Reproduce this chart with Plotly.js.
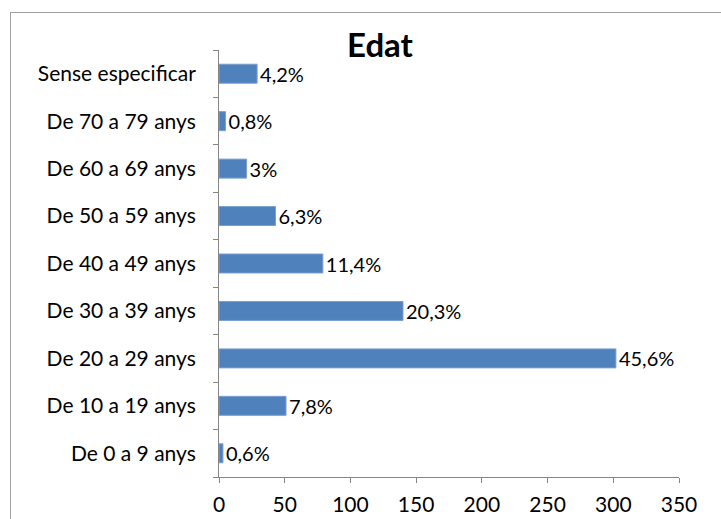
<!DOCTYPE html>
<html>
<head>
<meta charset="utf-8">
<script src="https://cdn.plot.ly/plotly-3.0.1.min.js"></script>
<style>
  html, body { margin: 0; padding: 0; background: #ffffff; overflow: hidden; }
  #frame { position: absolute; left: 10px; top: 12px; width: 740px; height: 540px; border: 1px solid #a0a0a0; box-sizing: border-box; }
  #chart { position: absolute; left: 0; top: 0; width: 721px; height: 519px; }
</style>
</head>
<body>
<div id="frame"></div>
<div id="chart"></div>
<script>
const categories = [
  "De 0 a 9 anys",
  "De 10 a 19 anys",
  "De 20 a 29 anys",
  "De 30 a 39 anys",
  "De 40 a 49 anys",
  "De 50 a 59 anys",
  "De 60 a 69 anys",
  "De 70 a 79 anys",
  "Sense especificar"
];
const values = [3, 51, 302, 140, 79, 43, 21, 5, 29];
const percentLabels = ["0,6%", "7,8%", "45,6%", "20,3%", "11,4%", "6,3%", "3%", "0,8%", "4,2%"];
const xTicks = [0, 50, 100, 150, 200, 250, 300, 350];

const fontFam = "Lato, 'Open Sans', 'DejaVu Sans', sans-serif";

const trace = {
  type: "bar",
  orientation: "h",
  y: categories,
  x: values,
  text: percentLabels,
  textposition: "outside",
  constraintext: "none",
  cliponaxis: false,
  textfont: { family: fontFam, size: 20, color: "#000000" },
  marker: { color: "#4F81BD", line: { color: "#7a9fd0", width: 1 } },
  hoverinfo: "skip"
};

const layout = {
  width: 721,
  height: 519,
  margin: { l: 219, r: 42, t: 50, b: 42, pad: 0 },
  paper_bgcolor: "rgba(0,0,0,0)",
  plot_bgcolor: "rgba(0,0,0,0)",
  bargap: 0.6,
  showlegend: false,
  title: {
    text: "<b>Edat</b>",
    font: { family: fontFam, size: 33, color: "#000000" },
    x: 0.527, xanchor: "center",
    y: 0.913, yanchor: "middle",
    xref: "container", yref: "container"
  },
  xaxis: {
    range: [0, 350],
    tickvals: xTicks,
    ticktext: xTicks.map(String),
    showgrid: false,
    zeroline: false,
    showline: true,
    linecolor: "#868686",
    linewidth: 1,
    ticks: "outside",
    ticklen: 5,
    tickcolor: "#868686",
    ticklabelstandoff: 4,
    tickfont: { family: fontFam, size: 21, color: "#000000" },
    fixedrange: true
  },
  yaxis: {
    type: "category",
    categoryorder: "array",
    categoryarray: categories,
    showgrid: false,
    zeroline: false,
    showline: true,
    linecolor: "#868686",
    linewidth: 1,
    ticks: "outside",
    tickson: "boundaries",
    ticklen: 5,
    tickcolor: "#868686",
    ticklabelstandoff: 18,
    tickfont: { family: fontFam, size: 21, color: "#000000" },
    fixedrange: true
  }
};

Plotly.newPlot("chart", [trace], layout, { displayModeBar: false, staticPlot: true });
</script>
</body>
</html>
